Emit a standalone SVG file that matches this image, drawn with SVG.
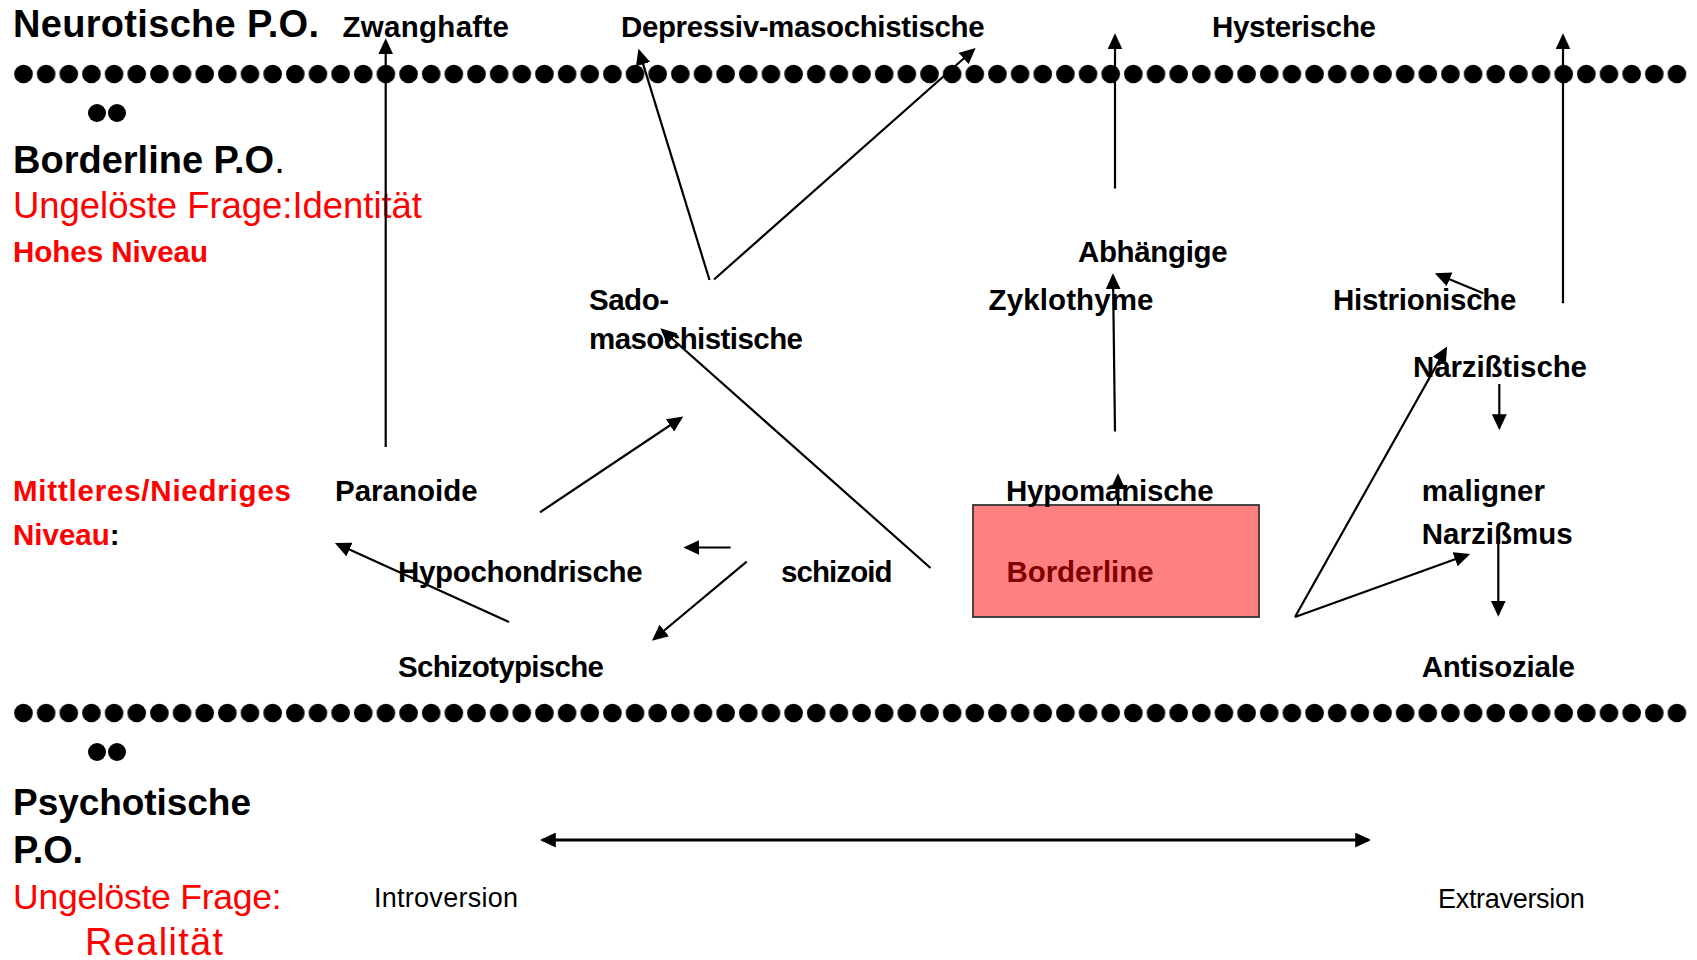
<svg xmlns="http://www.w3.org/2000/svg" width="1697" height="960" viewBox="0 0 1697 960">
<style>
.t{font-family:"Liberation Sans",Arial,sans-serif;font-weight:bold;font-size:29.5px;fill:#000}
.title{font-size:38px}
.red{fill:#FF0000}
.reg{font-weight:normal}
.conn line{stroke:#000;stroke-width:2.2;fill:none}
</style>
<defs>
<marker id="ah" markerUnits="userSpaceOnUse" markerWidth="16" markerHeight="15" viewBox="0 0 15 14" refX="12.5" refY="7" orient="auto-start-reverse">
<path d="M0,0 L15,7 L0,14 z" fill="#000"/>
</marker>
<pattern id="dotrow" patternUnits="userSpaceOnUse" x="12.175" y="64" width="22.65" height="20">
<circle cx="11.325" cy="10" r="9.3" fill="#000"/>
</pattern>
</defs>
<rect width="1697" height="960" fill="#fff"/>

<g id="separators">
<rect x="12" y="64" width="1676" height="20" fill="url(#dotrow)"/>
<circle cx="97" cy="113" r="9" fill="#000"/>
<circle cx="117" cy="113" r="9" fill="#000"/>
<rect x="12" y="64" width="1676" height="20" fill="url(#dotrow)" transform="translate(0,639)"/>
<circle cx="97" cy="752" r="9" fill="#000"/>
<circle cx="117" cy="752" r="9" fill="#000"/>
</g>

<g id="level-labels">
<text class="t title" x="13" y="37" textLength="306">Neurotische P.O.</text>
<text class="t title" x="13" y="173">Borderline P.O<tspan class="reg">.</tspan></text>
<text class="t reg red" x="13" y="218" style="font-size:36.5px" textLength="409">Ungelöste Frage:Identität</text>
<text class="t red" x="13" y="262" textLength="195">Hohes Niveau</text>
<text class="t red" x="13" y="501" textLength="278">Mittleres/Niedriges</text>
<text class="t" x="13" y="545"><tspan class="red">Niveau</tspan>:</text>
<text class="t" x="13" y="815" style="font-size:37px" textLength="238">Psychotische</text>
<text class="t title" x="13" y="862.7" textLength="70">P.O.</text>
<text class="t reg red" x="13" y="908.5" style="font-size:35.5px" textLength="268.6">Ungelöste Frage:</text>
<text class="t reg red" x="85" y="955" style="font-size:38px" textLength="138">Realität</text>
<text class="t reg" x="374" y="907" style="font-size:27px" textLength="144">Introversion</text>
<text class="t reg" x="1438" y="907.5" style="font-size:27px" textLength="146.7">Extraversion</text>
</g>

<g id="node-zwanghafte"><text class="t" x="342.5" y="37" textLength="166.5">Zwanghafte</text></g>
<g id="node-depressiv"><text class="t" x="621" y="37" textLength="363.6">Depressiv-masochistische</text></g>
<g id="node-hysterische"><text class="t" x="1212" y="37" textLength="164">Hysterische</text></g>
<g id="node-abhaengige"><text class="t" x="1078" y="262" textLength="149.6">Abhängige</text></g>
<g id="node-sado"><text class="t" x="589" y="309.5" textLength="80">Sado-</text><text class="t" x="589" y="348.5" textLength="214">masochistische</text></g>
<g id="node-zyklothyme"><text class="t" x="988.5" y="309.5" textLength="165">Zyklothyme</text></g>
<g id="node-histrionische"><text class="t" x="1333" y="309.5" textLength="183.4">Histrionische</text></g>
<g id="node-narzisstische"><text class="t" x="1413" y="377" textLength="174">Narzißtische</text></g>
<g id="node-paranoide"><text class="t" x="335" y="501" textLength="142.7">Paranoide</text></g>
<g id="node-borderline">
<rect x="973" y="505" width="286" height="112" fill="#FF8080" stroke="#333" stroke-width="1.8"/>
<text class="t" x="1006.4" y="582" style="fill:#800000" textLength="147.3">Borderline</text>
</g>
<g id="node-hypomanische"><text class="t" x="1006" y="501" textLength="207.6">Hypomanische</text></g>
<g id="node-maligner"><text class="t" x="1421.7" y="501" textLength="123.3">maligner</text><text class="t" x="1421.7" y="543.5" textLength="151">Narzißmus</text></g>
<g id="node-hypochondrische"><text class="t" x="398" y="582" textLength="244.6">Hypochondrische</text></g>
<g id="node-schizoid"><text class="t" x="781" y="582" textLength="111.6">schizoid</text></g>
<g id="node-schizotypische"><text class="t" x="398" y="677" textLength="206">Schizotypische</text></g>
<g id="node-antisoziale"><text class="t" x="1421.7" y="677" textLength="153.3">Antisoziale</text></g>

<g id="connectors" class="conn">
<line x1="385.7" y1="447" x2="385.7" y2="41" marker-end="url(#ah)"/>
<line x1="709.5" y1="280" x2="639.2" y2="51.4" marker-end="url(#ah)"/>
<line x1="714" y1="279.5" x2="973.6" y2="49.7" marker-end="url(#ah)"/>
<line x1="1115" y1="188.5" x2="1115" y2="36" marker-end="url(#ah)"/>
<line x1="1115" y1="431.5" x2="1113" y2="276" marker-end="url(#ah)"/>
<line x1="1118" y1="505" x2="1118" y2="476" marker-end="url(#ah)"/>
<line x1="509" y1="622" x2="337.3" y2="544" marker-end="url(#ah)"/>
<line x1="540" y1="512.3" x2="681" y2="418" marker-end="url(#ah)"/>
<line x1="930.5" y1="568" x2="662.3" y2="330" marker-end="url(#ah)"/>
<line x1="730.6" y1="547.5" x2="686" y2="547.5" marker-end="url(#ah)"/>
<line x1="746.7" y1="561.7" x2="654" y2="639" marker-end="url(#ah)"/>
<line x1="1483.3" y1="293.3" x2="1437.3" y2="274.3" marker-end="url(#ah)"/>
<line x1="1563" y1="303.3" x2="1563" y2="36" marker-end="url(#ah)"/>
<line x1="1295" y1="617" x2="1445.8" y2="348.7" marker-end="url(#ah)"/>
<line x1="1295" y1="617" x2="1467.6" y2="554.8" marker-end="url(#ah)"/>
<line x1="1499.3" y1="384" x2="1499.3" y2="427.5" marker-end="url(#ah)"/>
<line x1="1498.3" y1="540" x2="1498.3" y2="614" marker-end="url(#ah)"/>
<line x1="542.5" y1="840" x2="1368.5" y2="840" style="stroke-width:3" marker-start="url(#ah)" marker-end="url(#ah)"/>
</g>
</svg>
